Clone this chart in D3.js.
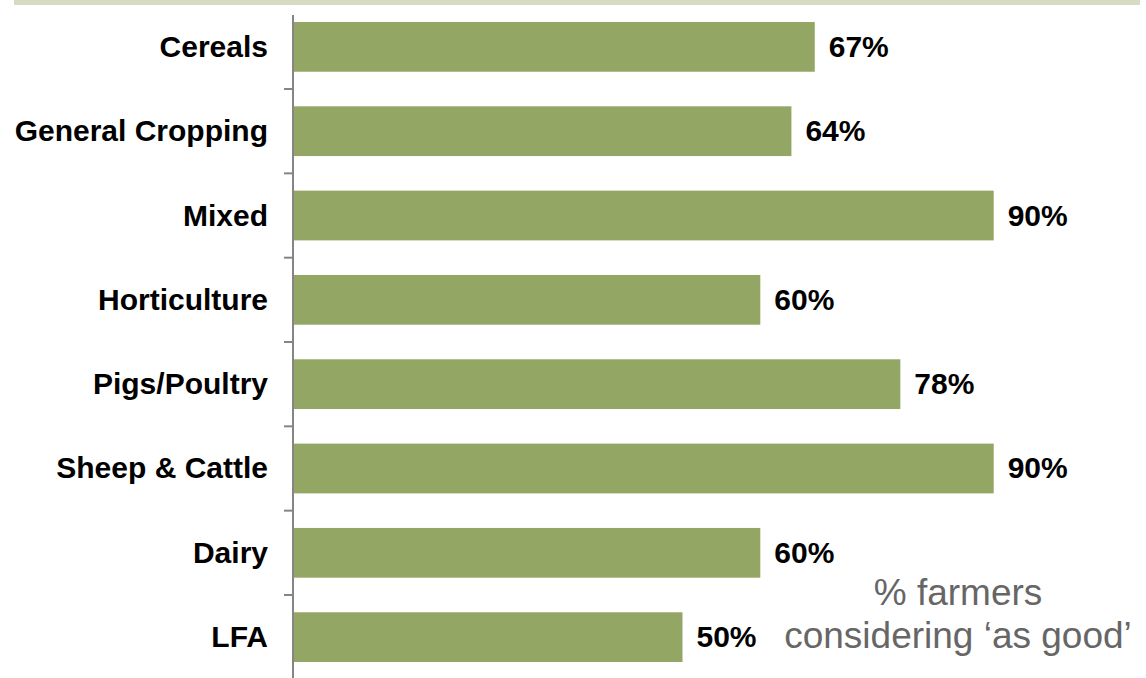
<!DOCTYPE html>
<html>
<head>
<meta charset="utf-8">
<script src="https://cdn.jsdelivr.net/npm/d3@7"></script>
<style>
  html, body { margin: 0; padding: 0; background: #ffffff; }
  svg { display: block; }
</style>
</head>
<body>
<svg id="chart" width="1146" height="678"></svg>
<script>
// Farm types and share of farmers rating them "as good"
const categories = ["Cereals", "General Cropping", "Mixed", "Horticulture",
                    "Pigs/Poultry", "Sheep & Cattle", "Dairy", "LFA"];
const values = [67, 64, 90, 60, 78, 90, 60, 50];
const noteLines = ["% farmers", "considering \u2018as good\u2019"];

const W = 1146, H = 678;
const svg = d3.select("#chart");

const font = "'Liberation Sans', Arial, Helvetica, sans-serif";
const barColor = "#94a664";
const axisColor = "#858585";

// Decorative band across the top
svg.append("rect")
  .attr("x", 14).attr("y", 0)
  .attr("width", 1126).attr("height", 5)
  .attr("fill", "#d6dcc4");

const x = d3.scaleLinear().domain([0, 100]).range([293.5, 1071.5]);
const y = d3.scaleBand()
  .domain(categories)
  .range([4.7, 679.3])
  .paddingInner(0.41)
  .paddingOuter(0.205);

const data = categories.map((c, i) => ({ cat: c, val: values[i] }));

// Bars
svg.append("g").selectAll("rect")
  .data(data)
  .join("rect")
  .attr("x", x(0))
  .attr("y", d => y(d.cat))
  .attr("width", d => x(d.val) - x(0))
  .attr("height", y.bandwidth())
  .attr("fill", barColor);

// Category axis: vertical line with ticks between categories
const axis = svg.append("g");
axis.append("line")
  .attr("x1", 293).attr("x2", 293)
  .attr("y1", 15).attr("y2", H)
  .attr("stroke", axisColor).attr("stroke-width", 2);

const gap = y.step() * y.paddingInner() / 2;
axis.selectAll("line.tick")
  .data(categories.slice(1))
  .join("line")
  .attr("class", "tick")
  .attr("x1", 284).attr("x2", 293)
  .attr("y1", d => y(d) - gap)
  .attr("y2", d => y(d) - gap)
  .attr("stroke", axisColor).attr("stroke-width", 2);

// Category labels
svg.append("g").selectAll("text")
  .data(data)
  .join("text")
  .attr("x", 268)
  .attr("y", d => y(d.cat) + y.bandwidth() / 2 + 10)
  .attr("text-anchor", "end")
  .attr("font-family", font)
  .attr("font-weight", "bold")
  .attr("font-size", 30)
  .attr("fill", "#000")
  .text(d => d.cat);

// Value labels
svg.append("g").selectAll("text")
  .data(data)
  .join("text")
  .attr("x", d => x(d.val) + 14)
  .attr("y", d => y(d.cat) + y.bandwidth() / 2 + 10)
  .attr("font-family", font)
  .attr("font-weight", "bold")
  .attr("font-size", 30)
  .attr("fill", "#000")
  .text(d => d.val + "%");

// Note in the lower right
svg.append("text")
  .attr("text-anchor", "middle")
  .attr("font-family", font)
  .attr("font-size", 37)
  .attr("fill", "#666666")
  .selectAll("tspan")
  .data(noteLines)
  .join("tspan")
  .attr("x", 958)
  .attr("y", (d, i) => 605 + i * 43)
  .text(d => d);
</script>
</body>
</html>
